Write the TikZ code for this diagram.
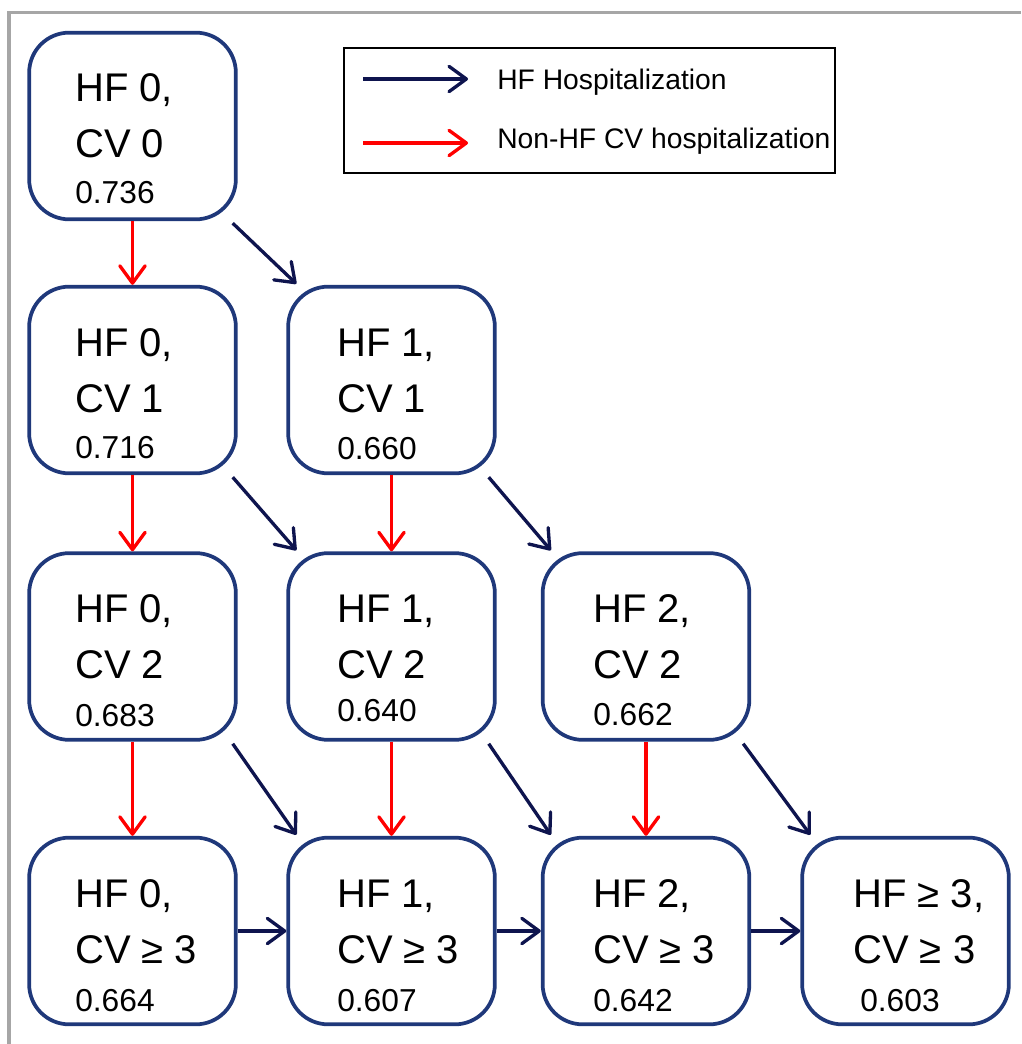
\documentclass[tikz,border=0pt]{standalone}
\usepackage{fontspec}
\setmainfont{Liberation Sans}
\usetikzlibrary{arrows.meta}
\definecolor{boxblue}{RGB}{31,56,122}
\definecolor{navy}{RGB}{14,20,78}
\definecolor{framegray}{RGB}{166,166,166}
\tikzset{
  statebox/.style={draw=boxblue, line width=2.8pt, rounded corners=30pt, minimum width=155pt, minimum height=140pt, inner sep=0pt, fill=white},
  bigtxt/.style={font=\fontsize{30pt}{30pt}\selectfont, inner sep=0pt, anchor=base west},
  numtxt/.style={font=\fontsize{23.8pt}{23.8pt}\selectfont, inner sep=0pt, anchor=base west},
  legtxt/.style={font=\fontsize{21.2pt}{21.2pt}\selectfont, inner sep=0pt, anchor=base west},
  tipshape/.style={-{Straight Barb[length=13pt,width=19pt,round]}},
  hfarrow/.style={draw=navy, line width=2.5pt, tipshape},
  cvarrow/.style={draw=red, line width=2.5pt, tipshape},
  legbox/.style={draw=black, line width=1.6pt, minimum width=368pt, minimum height=93.75pt, inner sep=0pt},
}
% name, cx, cy, text dx, line1, line2, number, number dx, number dy
\newcommand{\mkstate}[9]{%
  \node[statebox] (#1) at (#2,#3) {};
  \node[bigtxt] (#1a) at ([shift={(#4,-24)}]#1.center) {#5};
  \node[bigtxt] (#1b) at ([shift={(#4,32)}]#1.center) {#6};
  \node[numtxt] (#1c) at ([shift={(#8,#9)}]#1.center) {#7};
}
\begin{document}
\begin{tikzpicture}[x=0.75pt, y=-0.75pt]
\useasboundingbox (0,0) rectangle (1021,1044);
\draw[framegray, line width=2.5pt] (9,1044) -- (9,12.5) -- (1021,12.5);

% states
\mkstate{s00}{132.5}{126}{-57.5}{HF 0,}{CV 0}{0.736}{-57.5}{78}
\mkstate{s01}{132.5}{380}{-57.5}{HF 0,}{CV 1}{0.716}{-57.5}{78}
\mkstate{s11}{391.5}{380}{-54.5}{HF 1,}{CV 1}{0.660}{-54.5}{79}
\mkstate{s02}{132.5}{646.5}{-57.5}{HF 0,}{CV 2}{0.683}{-57.5}{80}
\mkstate{s12}{391.5}{646.5}{-54.5}{HF 1,}{CV 2}{0.640}{-54.5}{75}
\mkstate{s22}{646}{646.5}{-53}{HF 2,}{CV 2}{0.662}{-53}{79}
\mkstate{s03}{132.5}{931}{-57.5}{HF 0,}{CV ≥ 3}{0.664}{-57.5}{80}
\mkstate{s13}{391.5}{931}{-54.5}{HF 1,}{CV ≥ 3}{0.607}{-54.5}{80}
\mkstate{s23}{646}{931}{-53}{HF 2,}{CV ≥ 3}{0.642}{-53}{80}
\mkstate{s33}{905.5}{931}{-52.5}{HF ≥ 3,}{CV ≥ 3}{0.603}{-45.5}{80}

% non-HF CV hospitalization (red, vertical)
\draw[cvarrow] (s00) -- (s01);
\draw[cvarrow] (s01) -- (s02);
\draw[cvarrow] (s02) -- (s03);
\draw[cvarrow] (s11) -- (s12);
\draw[cvarrow] (s12) -- (s13);
\draw[cvarrow] (s22) -- (s23);

% HF hospitalization (navy, diagonal)
\draw[hfarrow] ([shift={(-5,2)}]s00.south east) -- ([shift={(10,-1)}]s11.north west);
\draw[hfarrow] ([shift={(-5,2)}]s01.south east) -- ([shift={(10,-1)}]s12.north west);
\draw[hfarrow] ([shift={(-8,2)}]s11.south east) -- ([shift={(10,-1)}]s22.north west);
\draw[hfarrow] ([shift={(-5,2)}]s02.south east) -- ([shift={(10,-1)}]s13.north west);
\draw[hfarrow] ([shift={(-8,2)}]s12.south east) -- ([shift={(10,-1)}]s23.north west);
\draw[hfarrow] ([shift={(-8,2)}]s22.south east) -- ([shift={(10,-1)}]s33.north west);
% HF hospitalization (navy, horizontal)
\draw[hfarrow] (s03) -- (s13);
\draw[hfarrow] (s13) -- (s23);
\draw[hfarrow] (s23) -- (s33);

% legend
\node[legbox] (legend) at (589.5,110.5) {};
\coordinate (lg1s) at (363,79);
\coordinate (lg1e) at (468,79);
\coordinate (lg2s) at (363,143);
\coordinate (lg2e) at (468,143);
\draw[hfarrow] (lg1s) -- (lg1e);
\draw[cvarrow] (lg2s) -- (lg2e);
\node[legtxt] (lg1t) at (497,90) {HF Hospitalization};
\node[legtxt] (lg2t) at (497,148.5) {Non-HF CV hospitalization};
\end{tikzpicture}
\end{document}
